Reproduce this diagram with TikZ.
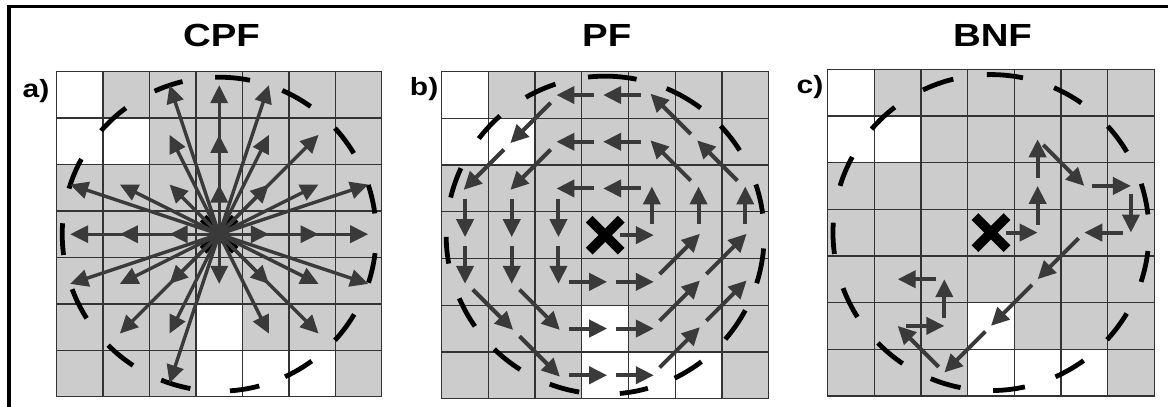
\documentclass[tikz,border=0pt]{standalone}
\usepackage{fontspec}
\setmainfont{Liberation Sans}[FakeStretch=1.2]
\usetikzlibrary{arrows.meta,calc}
\definecolor{cellgray}{RGB}{204,204,204}
\definecolor{gridcol}{RGB}{51,51,51}
\definecolor{arrcol}{RGB}{58,58,58}
\begin{document}
\begin{tikzpicture}[x=1pt,y=-1pt,
  gridline/.style={draw=gridcol,line width=1.3pt},
  dashline/.style={draw=black,line width=4.8pt,line cap=butt},
  arr/.style={draw=arrcol,line width=4pt,-{Triangle[length=18pt,width=17pt]}},
  xmark/.style={draw=black,line width=9.5pt,line cap=butt},
  titletext/.style={font=\fontsize{32}{38}\selectfont\bfseries,anchor=base,inner sep=0pt},
  labeltext/.style={font=\fontsize{25}{30}\selectfont\bfseries,anchor=base east,inner sep=0pt}]
\useasboundingbox (0,0) rectangle (1168,407);
% frame
\draw[line width=3.5pt] (1168,6.5) -- (9,6.5) -- (9,407);
% grids
\foreach \p/\gx/\gy/\s in {a/56.7/71.7/46.43, b/441.7/71.7/46.7, c/827.7/69.3/46.65}{
  \fill[cellgray] (\gx,\gy) rectangle ({\gx+7*\s},{\gy+7*\s});
  \foreach \i/\j in {0/0,0/1,1/1,3/5,3/6,4/6,5/6}
    \fill[white] ({\gx+\i*\s},{\gy+\j*\s}) rectangle ({\gx+(\i+1)*\s},{\gy+(\j+1)*\s});
  \foreach \k in {0,...,7}{
    \draw[gridline] ({\gx+\k*\s},{\gy-0.65}) -- ({\gx+\k*\s},{\gy+7*\s+0.65});
    \draw[gridline] ({\gx-0.65},{\gy+\k*\s}) -- ({\gx+7*\s+0.65},{\gy+\k*\s});
  }
  \foreach \i in {0,...,6}
    \foreach \j in {0,...,6}
      \coordinate (\p\i\j) at ({\gx+(\i+0.5)*\s},{\gy+(\j+0.5)*\s});
}
% dashed circles
\foreach \f/\g in {78.7/91.5, 54.4/66.3, 31/42.5, 7.6/18.3, -18/-6.9, -42.5/-30.7, -65.2/-53.9, -86.1/-75.2, -111.7/-100.6, -135/-123.3, -159.5/-147.6, -184/-172.4, 151.4/163.1, 126.5/138.8, 103.5/114.3}
  \draw[dashline] ([shift={({-1*(\f)}:157)}]a33) arc[start angle={-1*(\f)}, end angle={-1*(\g)}, radius=157];
\foreach \f/\g in {78.6/96.2, 53.1/67.3, 32.2/43.4, 7.8/18.6, -17.6/-4.8, -40.9/-28.2, -64.1/-52.7, -84.7/-74.4, -110.4/-99.4, -134.2/-122.3, -156.6/-145, -179.4/-169.7, 155.1/166.3, 131.4/142.6, 108.2/119.9}
  \draw[dashline] ([shift={({-1*(\f)}:159)}]b33) arc[start angle={-1*(\f)}, end angle={-1*(\g)}, radius=159];
\foreach \f/\g in {78.3/91.5, 55.1/66.5, 30.7/42.3, 6.6/18, -18.2/-6.7, -42.7/-30.8, -65.9/-54.1, -89.2/-77.6, -112.4/-101.1, -135.7/-124, -159.4/-147.7, -183.6/-172.2, 151.4/162.8, 127.5/139.1, 103.8/115.5}
  \draw[dashline] ([shift={({-1*(\f)}:158)}]c33) arc[start angle={-1*(\f)}, end angle={-1*(\g)}, radius=158];
% X marks
\foreach \p in {a,b,c}{
  \draw[xmark] ([shift={(-16,-16)}]\p33) -- ([shift={(16,16)}]\p33);
  \draw[xmark] ([shift={(-16,16)}]\p33) -- ([shift={(16,-16)}]\p33);
}
% panel a: CPF arrows
\foreach \i/\j in {2/0,3/0,4/0, 2/1,3/1,4/1,5/1, 0/2,1/2,2/2,3/2,4/2,5/2,6/2, 0/3,1/3,2/3,4/3,5/3,6/3, 0/4,1/4,2/4,3/4,4/4,5/4,6/4, 1/5,2/5,4/5,5/5, 2/6}
  \draw[arr,line width=3.4pt] (a33) -- ($(a33)!1.07!(a\i\j)$);
% panel b: PF spiral
\draw[arr,shorten <=15pt,shorten >=-2pt] (b33) -- (b43);
\foreach \u/\v in {43/42, 42/32, 32/22, 22/23, 23/24, 24/34, 34/44, 44/53, 53/52, 52/41, 41/31, 31/21, 21/12, 12/13, 13/14, 14/25, 25/35, 35/45, 45/54, 54/63, 63/62, 62/51, 51/40, 40/30, 30/20, 20/11, 11/02, 02/03, 03/04, 04/15, 15/26, 26/36, 36/46, 46/55, 55/64}
  \draw[arr,shorten <=11pt,shorten >=-2pt] (b\u) -- (b\v);
% panel c: BNF path
\draw[arr,shorten <=15pt] (c33) -- (c43);
\foreach \u/\v in {43/42, 42/41, 41/52, 52/62, 62/63, 63/53, 53/44, 44/35, 35/26, 26/15, 15/25, 25/24, 24/14}
  \draw[arr,shorten <=8pt] (c\u) -- (c\v);
% titles and labels
\node[titletext] (tA) at (221.5,46.7) {CPF};
\node[titletext] (tB) at (606.7,46.7) {PF};
\node[titletext] (tC) at (992.5,46.7) {BNF};
\node[labeltext] (lA) at (49.5,97) {a)};
\node[labeltext] (lB) at (438.5,95) {b)};
\node[labeltext] (lC) at (823.5,93) {c)};
\end{tikzpicture}
\end{document}
